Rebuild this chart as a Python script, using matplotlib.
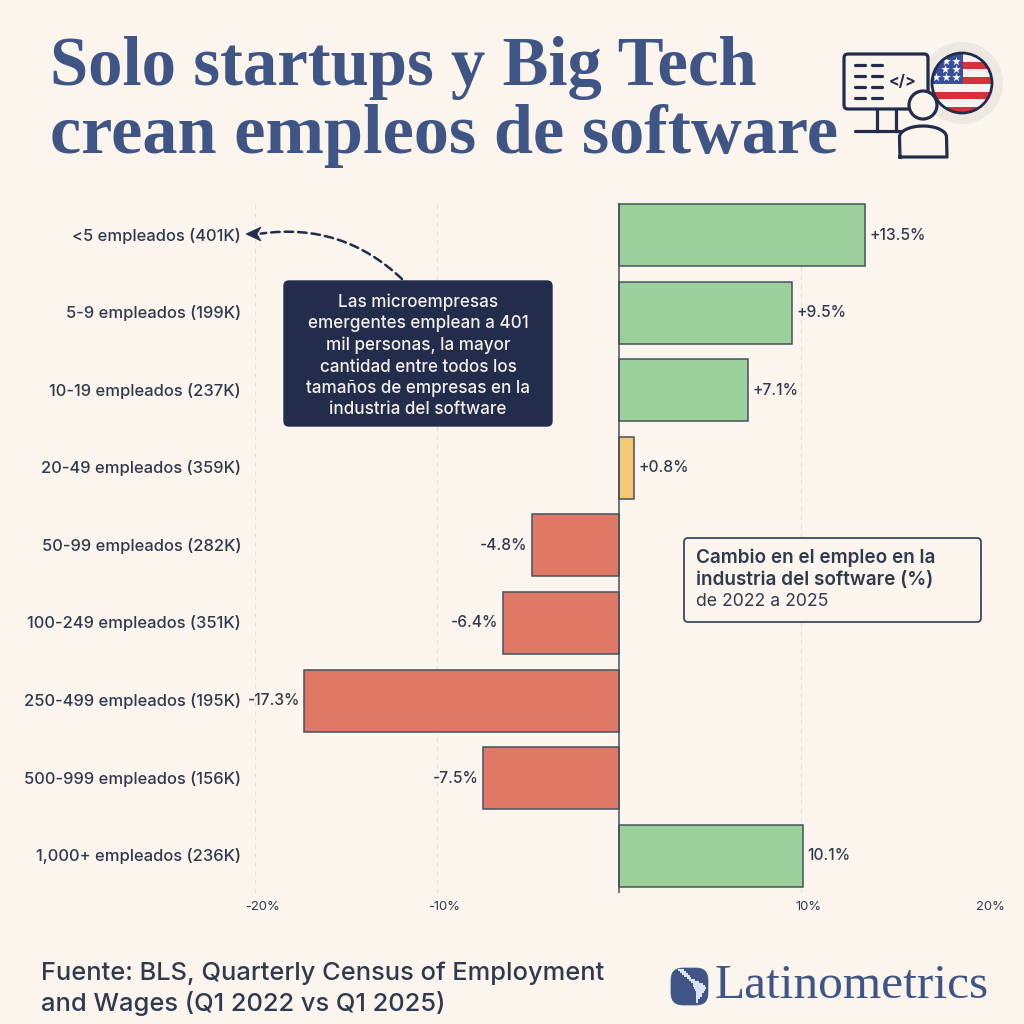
import matplotlib
matplotlib.use("Agg")
import matplotlib.pyplot as plt
from matplotlib.patches import FancyBboxPatch, FancyArrowPatch, Circle, Rectangle, Polygon
from matplotlib.transforms import ScaledTranslation
import numpy as np

categories = ["<5 empleados (401K)", "5-9 empleados (199K)", "10-19 empleados (237K)",
              "20-49 empleados (359K)", "50-99 empleados (282K)", "100-249 empleados (351K)",
              "250-499 empleados (195K)", "500-999 empleados (156K)", "1,000+ empleados (236K)"]
values = [13.5, 9.5, 7.1, 0.8, -4.8, -6.4, -17.3, -7.5, 10.1]
value_labels = ["+13.5%", "+9.5%", "+7.1%", "+0.8%", "-4.8%", "-6.4%", "-17.3%", "-7.5%", "10.1%"]
x_ticks = [-20, -10, 10, 20]
x_tick_labels = ["-20%", "-10%", "10%", "20%"]

BG = "#FBF5EE"
BLUE = "#3F5585"
NAVY = "#212D4A"
INK = "#2F3A4C"
GREEN = "#9BD09A"
RED = "#E07866"
YELLOW = "#F5C872"

plt.rcParams["font.family"] = ["Inter", "DejaVu Sans"]

fig = plt.figure(figsize=(10.24, 10.24), dpi=100, facecolor=BG)

# chart axes, -20..20 spans 255..983 px
ax = fig.add_axes([255 / 1024, 1 - 893 / 1024, 728 / 1024, (893 - 203) / 1024])
ax.set_facecolor("none")
ax.set_xlim(-20, 20)
ax.set_ylim(8.48, -0.413)
for s in ax.spines.values():
    s.set_visible(False)

for t in x_ticks:
    ax.axvline(t, color="#EADFD8", lw=0.8, ls=(0, (4, 4)), zorder=0)

colors = [GREEN if v > 1 else YELLOW if v > 0 else RED for v in values]
ypos = np.arange(len(values))
ax.barh(ypos, values, height=0.8, color=colors, edgecolor="#44525F", linewidth=1.1, zorder=2)
ax.axvline(0, color="#44525F", lw=1.1, zorder=3)

for y, v, lab in zip(ypos, values, value_labels):
    ax.annotate(lab, (v, y), xytext=(3.4 if v > 0 else -3, 0), textcoords="offset points",
                ha="left" if v > 0 else "right", va="center", fontsize=11.2,
                fontweight="medium", color=INK)

ax.set_yticks(ypos, categories, fontsize=11.9, fontweight="medium", color=INK)
ax.set_xticks(x_ticks, x_tick_labels, fontsize=9.4, color=INK)
ax.tick_params(axis="both", length=0)
ax.tick_params(axis="y", pad=10)
ax.tick_params(axis="x", pad=5.9)
shift = ScaledTranslation(7 / 100, 0, fig.dpi_scale_trans)
for lab in ax.get_xticklabels():
    lab.set_transform(lab.get_transform() + shift)
up = ScaledTranslation(0, 1 / 100, fig.dpi_scale_trans)
for lab in ax.get_yticklabels():
    lab.set_transform(lab.get_transform() + up)

# overlay in pixel coordinates for title, boxes and icons
ov = fig.add_axes([0, 0, 1, 1], zorder=5)
ov.set_xlim(0, 1024)
ov.set_ylim(1024, 0)
ov.axis("off")

ov.text(50, 68, "Solo startups y Big Tech", fontsize=49.5, fontweight="bold",
        family="Liberation Serif", color=BLUE, va="center")
ov.text(50, 136, "crean empleos de software", fontsize=50.6, fontweight="bold",
        family="Liberation Serif", color=BLUE, va="center")

# callout
ov.add_patch(FancyBboxPatch((284, 281), 268, 145, boxstyle="round,pad=0,rounding_size=5",
                            fc=NAVY, ec=NAVY, lw=1))
ov.text(418, 356, "Las microempresas\nemergentes emplean a 401\nmil personas, la mayor\n"
        "cantidad entre todos los\ntamaños de empresas en la\nindustria del software",
        color="#F4EFEA", fontsize=12.3, fontweight="medium", ha="center", va="center",
        linespacing=1.33)
ov.add_patch(FancyArrowPatch((404, 281), (258, 234), connectionstyle="arc3,rad=0.25",
                             arrowstyle="-", color=NAVY, lw=1.8, linestyle=(0, (3.4, 2))))
ov.add_patch(Polygon([(246, 234), (261, 227), (257, 234), (261, 241)], closed=True, fc=NAVY, ec=NAVY, lw=0.5))

# legend box
ov.add_patch(FancyBboxPatch((684, 538), 297, 84, boxstyle="round,pad=0,rounding_size=4",
                            fc=BG, ec="#3B4A60", lw=1.3))
ov.text(696, 558, "Cambio en el empleo en la", fontsize=13.6, fontweight="semibold", color=INK, va="center")
ov.text(696, 580, "industria del software (%)", fontsize=13.6, fontweight="semibold", color=INK, va="center")
ov.text(696, 602, "de 2022 a 2025", fontsize=12.7, color=INK, va="center")

# source
ov.text(41, 973, "Fuente: BLS, Quarterly Census of Employment", fontsize=18.3,
        fontweight="medium", color=INK, va="center")
ov.text(41, 1004, "and Wages (Q1 2022 vs Q1 2025)", fontsize=18.3,
        fontweight="medium", color=INK, va="center")

# logo
ov.add_patch(FancyBboxPatch((671, 968), 37, 37, boxstyle="round,pad=0,rounding_size=12",
                            fc=BLUE, ec=BLUE, lw=0.5))
map_rows = [(970, 679, 684), (972, 681, 686), (974, 683, 688), (976, 685, 689), (978, 688, 691),
            (980, 690, 694), (982, 692, 698), (984, 694, 703), (986, 694, 705), (988, 695, 706),
            (990, 696, 705), (992, 697, 704), (994, 697, 702), (996, 697, 701), (998, 697, 699),
            (1000, 697, 698), (1002, 697, 697)]
for yy, x0, x1 in map_rows:
    xs = np.arange(x0, x1 + 1, 2)
    ov.scatter(xs, np.full(len(xs), yy), s=2.6, color="#DCE3EF", marker="s", linewidths=0, zorder=6)
ov.text(715, 986, "Latinometrics", fontsize=35.6, family="Liberation Serif", color=BLUE, va="center")

# monitor icon
lw = 2.3
ov.add_patch(Circle((962, 83), 41, fc="#ECE8E2", ec="none"))
ov.add_patch(FancyBboxPatch((844, 54), 84, 55, boxstyle="round,pad=0,rounding_size=4",
                            fc=BG, ec=NAVY, lw=lw))
for yy in [65, 76, 87, 98]:
    ov.plot([855, 865], [yy, yy], color=NAVY, lw=lw, solid_capstyle="round")
    ov.plot([872, 882], [yy, yy], color=NAVY, lw=lw, solid_capstyle="round")
ov.text(903, 82, "</>", fontsize=11.5, fontweight="bold", color=NAVY, ha="center", va="center")
ov.plot([877, 877], [110, 131], color=NAVY, lw=lw)
ov.plot([896, 896], [110, 131], color=NAVY, lw=lw)
ov.plot([855, 900], [131, 131], color=NAVY, lw=lw, solid_capstyle="round")
ov.add_patch(Circle((923, 105), 14, fc=BG, ec=NAVY, lw=lw, zorder=4))
t = np.linspace(np.pi, 2 * np.pi, 30)
ov.plot(np.r_[900, 923 + 23.5 * np.cos(t), 947, 900],
        np.r_[157, 137 + 11 * np.sin(t), 157, 157], color=NAVY, lw=lw, zorder=4)

# flag
flag = Circle((962, 83), 30, transform=ov.transData)
white = Rectangle((930, 50), 64, 66, fc="#F5F3F0", ec="none", zorder=7)
white.set_clip_path(flag)
ov.add_patch(white)
for top in [47, 62, 77, 92, 107]:
    r = Rectangle((930, top), 64, 6.8, fc="#D8303A", ec="none", zorder=7)
    r.set_clip_path(flag)
    ov.add_patch(r)
canton = Rectangle((930, 50), 33, 33.5, fc="#3A4F9A", ec="none", zorder=8)
canton.set_clip_path(flag)
ov.add_patch(canton)
star_x = [946, 956, 945, 956, 936, 946, 956]
star_y = [61, 61, 69, 69, 77, 77, 77]
ov.scatter(star_x, star_y, s=42, marker="*", color="white", linewidths=0, zorder=9)
ov.add_patch(Circle((962, 83), 30, fc="none", ec=NAVY, lw=2, zorder=10))

fig.savefig("out.png", dpi=100, facecolor=BG)
